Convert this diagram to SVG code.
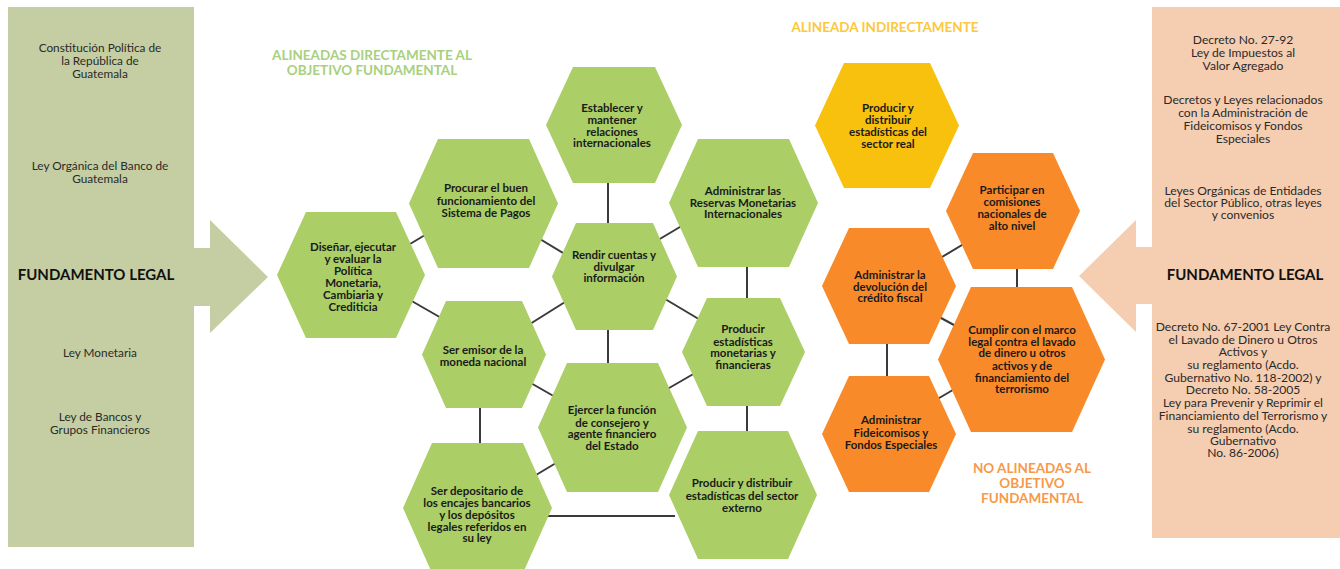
<svg xmlns="http://www.w3.org/2000/svg" width="1340" height="569" viewBox="0 0 1340 569">
<style>
.lt{font-family:Lato,"Liberation Sans",sans-serif;font-size:11.8px;fill:#2a2a2a;text-anchor:middle}
.rt{font-size:12.1px}
.fl{font-family:Lato,"Liberation Sans",sans-serif;font-size:15px;font-weight:bold;fill:#111;text-anchor:middle}
.ht{font-family:Lato,"Liberation Sans",sans-serif;font-size:11.5px;font-weight:bold;fill:#1a1a1a;text-anchor:middle}
.hd{font-family:Lato,"Liberation Sans",sans-serif;font-size:13.5px;font-weight:bold;text-anchor:middle}
.g{fill:#ABCE67}
.y{fill:#F8C10E}
.o{fill:#F98A2A}
.c{stroke:#3a3a3a;stroke-width:2;fill:none}
</style>
<rect width="1340" height="569" fill="#fff"/>
<g id="left-panel">
<path d="M8,7 H194 V248 H210 V220 L268,277 L210,333 V306 H194 V547 H8 Z" fill="#C5CEA2"/>
<text class="lt" x="100" y="52">Constitución Política de</text>
<text class="lt" x="100" y="65">la República de</text>
<text class="lt" x="100" y="78">Guatemala</text>
<text class="lt" x="100" y="170">Ley Orgánica del Banco de</text>
<text class="lt" x="100" y="183">Guatemala</text>
<text class="fl" x="96" y="280">FUNDAMENTO LEGAL</text>
<text class="lt" x="100" y="357">Ley Monetaria</text>
<text class="lt" x="100" y="421">Ley de Bancos y</text>
<text class="lt" x="100" y="434">Grupos Financieros</text>
</g>
<g id="right-panel">
<path d="M1152,7 H1340 V538 H1152 V304 H1136 V332 L1079,276 L1136,220 V247 H1152 Z" fill="#F5CDB0"/>
<text class="lt rt" x="1243" y="44">Decreto No. 27-92</text>
<text class="lt rt" x="1243" y="57">Ley de Impuestos al</text>
<text class="lt rt" x="1243" y="70">Valor Agregado</text>
<text class="lt rt" x="1243" y="104">Decretos y Leyes relacionados</text>
<text class="lt rt" x="1243" y="117">con la Administración de</text>
<text class="lt rt" x="1243" y="130">Fideicomisos y Fondos</text>
<text class="lt rt" x="1243" y="143">Especiales</text>
<text class="lt rt" x="1243" y="195">Leyes Orgánicas de Entidades</text>
<text class="lt rt" x="1243" y="207">del Sector Público, otras leyes</text>
<text class="lt rt" x="1243" y="219">y convenios</text>
<text class="fl" x="1245" y="280">FUNDAMENTO LEGAL</text>
<text class="lt rt" x="1243" y="331">Decreto No. 67-2001 Ley Contra</text>
<text class="lt rt" x="1243" y="344">el Lavado de Dinero u Otros</text>
<text class="lt rt" x="1243" y="356">Activos y</text>
<text class="lt rt" x="1243" y="369">su reglamento (Acdo.</text>
<text class="lt rt" x="1243" y="382">Gubernativo No. 118-2002) y</text>
<text class="lt rt" x="1243" y="394">Decreto No. 58-2005</text>
<text class="lt rt" x="1243" y="407">Ley para Prevenir y Reprimir el</text>
<text class="lt rt" x="1243" y="420">Financiamiento del Terrorismo y</text>
<text class="lt rt" x="1243" y="433">su reglamento (Acdo.</text>
<text class="lt rt" x="1243" y="445">Gubernativo</text>
<text class="lt rt" x="1243" y="457">No. 86-2006)</text>
</g>
<g id="headings">
<text class="hd" x="372" y="60" fill="#A8D07E">ALINEADAS DIRECTAMENTE AL</text>
<text class="hd" x="372" y="75" fill="#A8D07E">OBJETIVO FUNDAMENTAL</text>
<text class="hd" x="885" y="32" fill="#FBC83E">ALINEADA INDIRECTAMENTE</text>
<text class="hd" x="1032" y="473" fill="#F8994A">NO ALINEADAS AL</text>
<text class="hd" x="1032" y="488" fill="#F8994A">OBJETIVO</text>
<text class="hd" x="1032" y="503" fill="#F8994A">FUNDAMENTAL</text>
</g>
<g id="connectors" class="c">
<path class="c" d="M608,178 V228"/>
<path class="c" d="M608,325 V368"/>
<path class="c" d="M747,262 V303"/>
<path class="c" d="M747,401 V436"/>
<path class="c" d="M480,403 V448"/>
<path class="c" d="M545,516 H675"/>
<path class="c" d="M400,250 L435,229"/>
<path class="c" d="M403,296 L450,323"/>
<path class="c" d="M530,233 L573,259"/>
<path class="c" d="M648,246 L690,221"/>
<path class="c" d="M655,293 L707,324"/>
<path class="c" d="M522,329 L573,297"/>
<path class="c" d="M522,378 L564,402"/>
<path class="c" d="M657,395 L702,369"/>
<path class="c" d="M526,481 L566,457"/>
<path class="c" d="M932,263 L972,239"/>
<path class="c" d="M930,312 L965,331"/>
<path class="c" d="M929,404 L963,384"/>
<path class="c" d="M1017,264 V292"/>
<path class="c" d="M887,339 V381"/>
</g>
<g id="establecer">
<polygon class="g" points="546,125 573,67 655,67 682,125 655,183 573,183"/>
<text class="ht" x="612" y="112">Establecer y</text>
<text class="ht" x="612" y="124">mantener</text>
<text class="ht" x="612" y="136">relaciones</text>
<text class="ht" x="612" y="147">internacionales</text>
</g>
<g id="reservas">
<polygon class="g" points="669,203 698,139 789,139 818,203 789,267 698,267"/>
<text class="ht" x="743" y="195">Administrar las</text>
<text class="ht" x="743" y="207">Reservas Monetarias</text>
<text class="ht" x="743" y="218">Internacionales</text>
</g>
<g id="procurar">
<polygon class="g" points="409,203.5 438,139 529,139 558,203.5 529,268 438,268"/>
<text class="ht" x="486" y="192">Procurar el buen</text>
<text class="ht" x="486" y="205">funcionamiento del</text>
<text class="ht" x="486" y="217">Sistema de Pagos</text>
</g>
<g id="disenar">
<polygon class="g" points="277,275 306,212 396,212 425,275 396,338 306,338"/>
<text class="ht" x="353" y="251">Diseñar, ejecutar</text>
<text class="ht" x="353" y="263">y evaluar la</text>
<text class="ht" x="353" y="275">Política</text>
<text class="ht" x="353" y="287">Monetaria,</text>
<text class="ht" x="353" y="299">Cambiaria y</text>
<text class="ht" x="353" y="311">Crediticia</text>
</g>
<g id="rendir">
<polygon class="g" points="552,276.5 576,223 653,223 677,276.5 653,330 576,330"/>
<text class="ht" x="614" y="259">Rendir cuentas y</text>
<text class="ht" x="614" y="271">divulgar</text>
<text class="ht" x="614" y="282">información</text>
</g>
<g id="emisor">
<polygon class="g" points="422,354.5 446,301 522,301 546,354.5 522,408 446,408"/>
<text class="ht" x="483" y="354">Ser emisor de la</text>
<text class="ht" x="483" y="366">moneda nacional</text>
</g>
<g id="ejercer">
<polygon class="g" points="538,427.5 567,363 658,363 687,427.5 658,492 567,492"/>
<text class="ht" x="612" y="414">Ejercer la función</text>
<text class="ht" x="612" y="427">de consejero y</text>
<text class="ht" x="612" y="438">agente financiero</text>
<text class="ht" x="612" y="450">del Estado</text>
</g>
<g id="monetarias">
<polygon class="g" points="682,352 707,298 780,298 805,352 780,406 707,406"/>
<text class="ht" x="743" y="333">Producir</text>
<text class="ht" x="743" y="346">estadísticas</text>
<text class="ht" x="743" y="357">monetarias y</text>
<text class="ht" x="743" y="369">financieras</text>
</g>
<g id="depositario">
<polygon class="g" points="403,508 432,443 523,443 552,508 523,573 432,573"/>
<text class="ht" x="477" y="495">Ser depositario de</text>
<text class="ht" x="477" y="507">los encajes bancarios</text>
<text class="ht" x="477" y="519">y los depósitos</text>
<text class="ht" x="477" y="531">legales referidos en</text>
<text class="ht" x="477" y="542">su ley</text>
</g>
<g id="externo">
<polygon class="g" points="669,495 698,431 788,431 817,495 788,559 698,559"/>
<text class="ht" x="742" y="487">Producir y distribuir</text>
<text class="ht" x="742" y="500">estadísticas del sector</text>
<text class="ht" x="742" y="512">externo</text>
</g>
<g id="sector-real">
<polygon class="y" points="815,125.5 844,63 930,63 959,125.5 930,188 844,188"/>
<text class="ht" x="888" y="112">Producir y</text>
<text class="ht" x="888" y="124">distribuir</text>
<text class="ht" x="888" y="136">estadísticas del</text>
<text class="ht" x="888" y="148">sector real</text>
</g>
<g id="participar">
<polygon class="o" points="946,211 973,153 1053,153 1080,211 1053,269 973,269"/>
<text class="ht" x="1012" y="194">Participar en</text>
<text class="ht" x="1012" y="206">comisiones</text>
<text class="ht" x="1012" y="218">nacionales de</text>
<text class="ht" x="1012" y="230">alto nivel</text>
</g>
<g id="devolucion">
<polygon class="o" points="822,286 849,228 929,228 956,286 929,344 849,344"/>
<text class="ht" x="890" y="279">Administrar la</text>
<text class="ht" x="890" y="291">devolución del</text>
<text class="ht" x="890" y="302">crédito fiscal</text>
</g>
<g id="cumplir">
<polygon class="o" points="938,359.5 971,287 1072,287 1105,359.5 1072,432 971,432"/>
<text class="ht" x="1022" y="334">Cumplir con el marco</text>
<text class="ht" x="1022" y="346">legal contra el lavado</text>
<text class="ht" x="1022" y="357">de dinero u otros</text>
<text class="ht" x="1022" y="370">activos y de</text>
<text class="ht" x="1022" y="382">financiamiento del</text>
<text class="ht" x="1022" y="393">terrorismo</text>
</g>
<g id="fideicomisos">
<polygon class="o" points="822,434 849,376 929,376 956,434 929,492 849,492"/>
<text class="ht" x="891" y="424">Administrar</text>
<text class="ht" x="891" y="437">Fideicomisos y</text>
<text class="ht" x="891" y="449">Fondos Especiales</text>
</g>
</svg>
